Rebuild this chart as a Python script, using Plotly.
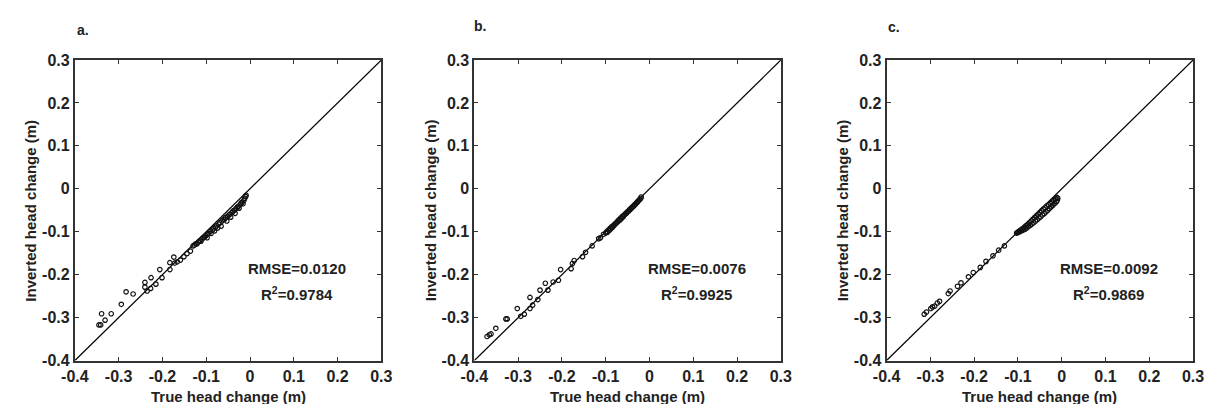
import plotly.graph_objects as go

# ---- data ----
panel_labels = ["a.", "b.", "c."]
rmse_values = ["0.0120", "0.0076", "0.0092"]
r2_values = ["0.9784", "0.9925", "0.9869"]
tick_values = [-0.4, -0.3, -0.2, -0.1, 0, 0.1, 0.2, 0.3]
tick_labels = ["-0.4", "-0.3", "-0.2", "-0.1", "0", "0.1", "0.2", "0.3"]
axis_range = [-0.4, 0.3]

true_a = [-0.345, -0.341, -0.339, -0.331, -0.317, -0.294, -0.283, -0.267, -0.240, -0.240,
          -0.235, -0.227, -0.226, -0.215, -0.206, -0.201, -0.183, -0.183, -0.174, -0.172,
          -0.166, -0.159, -0.151, -0.144, -0.136,
          -0.130, -0.127, -0.124, -0.121, -0.118, -0.115, -0.112, -0.110, -0.107, -0.104,
          -0.101, -0.098, -0.097, -0.094, -0.091, -0.089, -0.086, -0.083, -0.081, -0.079,
          -0.076, -0.074, -0.071, -0.069, -0.066, -0.064, -0.061, -0.058, -0.056, -0.053,
          -0.051, -0.048, -0.046, -0.044, -0.041, -0.039, -0.036, -0.034, -0.032, -0.029,
          -0.027, -0.025, -0.022, -0.020, -0.018, -0.016, -0.014, -0.012, -0.010, -0.009]
inv_a = [-0.317, -0.317, -0.291, -0.306, -0.291, -0.269, -0.240, -0.245, -0.218, -0.229,
         -0.238, -0.232, -0.207, -0.222, -0.188, -0.207, -0.188, -0.172, -0.159, -0.173,
         -0.170, -0.166, -0.158, -0.151, -0.145,
         -0.133, -0.131, -0.128, -0.128, -0.124, -0.121, -0.122, -0.117, -0.114, -0.113,
         -0.109, -0.114, -0.106, -0.104, -0.099, -0.104, -0.096, -0.093, -0.098, -0.089,
         -0.086, -0.091, -0.082, -0.079, -0.087, -0.075, -0.072, -0.071, -0.067, -0.075,
         -0.064, -0.061, -0.059, -0.066, -0.055, -0.052, -0.050, -0.057, -0.046, -0.043,
         -0.041, -0.045, -0.036, -0.033, -0.031, -0.035, -0.027, -0.022, -0.018, -0.015]

true_b = [-0.371, -0.366, -0.362, -0.351, -0.328, -0.325, -0.302, -0.294, -0.286, -0.273,
          -0.273, -0.267, -0.255, -0.250, -0.238, -0.232, -0.220, -0.208, -0.203, -0.179,
          -0.176, -0.172, -0.153, -0.146, -0.131, -0.116,
          -0.112, -0.105, -0.100, -0.098, -0.096, -0.094, -0.092, -0.090, -0.088, -0.086,
          -0.084, -0.082, -0.080, -0.078, -0.076, -0.074, -0.072, -0.070, -0.068, -0.066,
          -0.064, -0.062, -0.060, -0.058, -0.056, -0.054, -0.052, -0.050, -0.048, -0.046,
          -0.044, -0.042, -0.040, -0.038, -0.036, -0.034, -0.032, -0.030, -0.028, -0.026,
          -0.024, -0.022, -0.020, -0.019]
inv_b = [-0.344, -0.340, -0.338, -0.325, -0.303, -0.303, -0.279, -0.297, -0.292, -0.253,
         -0.279, -0.271, -0.258, -0.236, -0.220, -0.236, -0.217, -0.213, -0.188, -0.186,
         -0.174, -0.167, -0.158, -0.148, -0.133, -0.116,
         -0.114, -0.106, -0.103, -0.100, -0.101, -0.096, -0.097, -0.092, -0.093, -0.088,
         -0.089, -0.085, -0.084, -0.081, -0.080, -0.077, -0.076, -0.072, -0.073, -0.068,
         -0.069, -0.064, -0.065, -0.061, -0.060, -0.057, -0.056, -0.053, -0.052, -0.049,
         -0.048, -0.045, -0.044, -0.041, -0.040, -0.037, -0.036, -0.033, -0.031, -0.029,
         -0.026, -0.025, -0.022, -0.019]

true_c = [-0.314, -0.309, -0.299, -0.295, -0.290, -0.284, -0.279, -0.259, -0.255, -0.238,
          -0.230, -0.213, -0.202, -0.186, -0.173, -0.157, -0.144, -0.131,
          -0.103, -0.101, -0.099, -0.098, -0.096, -0.094, -0.092, -0.090, -0.088, -0.086,
          -0.084, -0.082, -0.080, -0.078, -0.076, -0.074, -0.072, -0.070, -0.068, -0.066,
          -0.064, -0.062, -0.060, -0.058, -0.056, -0.054, -0.052, -0.050, -0.048, -0.046,
          -0.044, -0.042, -0.040, -0.038, -0.036, -0.034, -0.032, -0.030, -0.028, -0.026,
          -0.024, -0.022, -0.020, -0.018, -0.016, -0.014, -0.012, -0.011, -0.010, -0.009]
inv_c = [-0.292, -0.287, -0.279, -0.275, -0.273, -0.266, -0.262, -0.244, -0.238, -0.227,
         -0.219, -0.205, -0.195, -0.183, -0.169, -0.156, -0.143, -0.133,
         -0.103, -0.102, -0.101, -0.099, -0.100, -0.096, -0.098, -0.093, -0.096, -0.090,
         -0.094, -0.086, -0.091, -0.083, -0.088, -0.079, -0.085, -0.075, -0.082, -0.071,
         -0.079, -0.067, -0.075, -0.063, -0.072, -0.059, -0.068, -0.055, -0.065, -0.051,
         -0.061, -0.047, -0.058, -0.044, -0.054, -0.040, -0.050, -0.037, -0.046, -0.034,
         -0.042, -0.031, -0.038, -0.027, -0.034, -0.023, -0.030, -0.020, -0.026, -0.022]

series = [(true_a, inv_a), (true_b, inv_b), (true_c, inv_c)]

# ---- layout geometry (window pixels; the page body has an 8px margin) ----
OFF = 8
W, H = 1215 - 2 * OFF, 412 - 2 * OFF


def fx(px):
    return (px - OFF) / W


def fy(py):
    return 1 - (py - OFF) / H


x_px = [(62, 375), (470, 783), (891, 1204)]
y_px = (54, 368)
label_pos = [(62, 22.5), (468, 18.5), (890, 19.5)]

FONT = "Liberation Sans, Arial, sans-serif"
INK = "#222222"


def bold(size):
    return dict(family=FONT, size=size, color=INK, weight="bold")


fig = go.Figure()
layout = dict(
    width=W, height=H,
    margin=dict(l=0, r=0, t=0, b=0),
    paper_bgcolor="white", plot_bgcolor="white",
    showlegend=False,
    font=dict(family=FONT, color=INK),
    annotations=[],
)

for i, (xt, yi) in enumerate(series):
    n = "" if i == 0 else str(i + 1)
    xa, ya = "x" + n, "y" + n
    # 1:1 line
    fig.add_trace(go.Scatter(x=axis_range, y=axis_range, mode="lines",
                             line=dict(color="black", width=1.2),
                             xaxis=xa, yaxis=ya, hoverinfo="skip"))
    fig.add_trace(go.Scatter(x=xt, y=yi, mode="markers",
                             marker=dict(symbol="circle-open", size=4.5,
                                         color="#111111", line=dict(width=1.2)),
                             xaxis=xa, yaxis=ya))
    common = dict(range=axis_range, tickvals=tick_values, ticktext=tick_labels,
                  ticks="inside", ticklen=4, tickwidth=1, tickcolor="#333333",
                  showline=True, linecolor="#333333", linewidth=2, mirror="ticks",
                  showgrid=False, zeroline=False, tickfont=bold(16))
    layout["xaxis" + n] = dict(common, domain=[fx(x_px[i][0]), fx(x_px[i][1])], anchor=ya)
    layout["yaxis" + n] = dict(common, domain=[fy(y_px[1]), fy(y_px[0])], anchor=xa)
    # axis titles
    layout["annotations"].append(dict(
        text="True head change (m)", x=0.5, y=0, xref=xa + " domain", yref=ya + " domain",
        xanchor="center", yanchor="middle", yshift=-35.5, showarrow=False, font=bold(15)))
    layout["annotations"].append(dict(
        text="Inverted head change (m)", x=0, y=0.5, xref=xa + " domain", yref=ya + " domain",
        xanchor="center", yanchor="middle", xshift=-44.5, textangle=-90, showarrow=False,
        font=bold(15)))
    # panel label
    layout["annotations"].append(dict(
        text=panel_labels[i], x=fx(label_pos[i][0]), y=fy(label_pos[i][1]),
        xref="paper", yref="paper", xanchor="left", yanchor="middle",
        showarrow=False, font=bold(14)))
    # statistics
    layout["annotations"].append(dict(
        text="RMSE=" + rmse_values[i], x=0.108, y=-0.186, xref=xa, yref=ya,
        xanchor="center", yanchor="middle", showarrow=False, font=bold(15)))
    layout["annotations"].append(dict(
        text="R<sup>2</sup>=" + r2_values[i], x=0.108, y=-0.243, xref=xa, yref=ya,
        xanchor="center", yanchor="middle", showarrow=False, font=bold(15)))

fig.update_layout(**layout)
fig.write_html("out.html")
